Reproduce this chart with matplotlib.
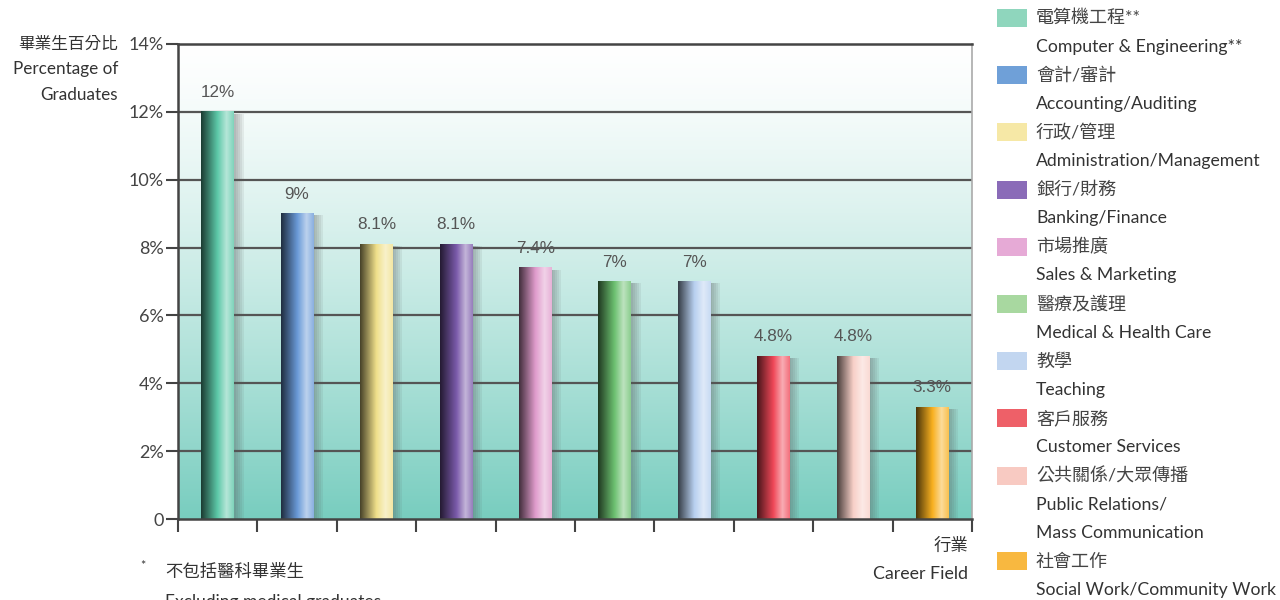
import numpy as np
import matplotlib
matplotlib.use("Agg")
import matplotlib.pyplot as plt
from matplotlib.colors import to_rgb
from matplotlib.patches import Rectangle

plt.rcParams['font.family'] = ['Lato', 'Noto Sans CJK TC', 'DejaVu Sans']

# data
labels_zh = ["電算機工程**", "會計/審計", "行政/管理", "銀行/財務", "市場推廣",
             "醫療及護理", "教學", "客戶服務", "公共關係/大眾傳播", "社會工作"]
labels_en = ["Computer & Engineering**", "Accounting/Auditing", "Administration/Management",
             "Banking/Finance", "Sales & Marketing", "Medical & Health Care", "Teaching",
             "Customer Services", "Public Relations/\nMass Communication",
             "Social Work/Community Work"]
values = [12, 9, 8.1, 8.1, 7.4, 7, 7, 4.8, 4.8, 3.3]
value_text = ["12%", "9%", "8.1%", "8.1%", "7.4%", "7%", "7%", "4.8%", "4.8%", "3.3%"]
bar_colors = ["#5cc8a8", "#6a9ad8", "#f0e08a", "#7a5aaa", "#e09ccc",
              "#6cc070", "#b8d0f0", "#f04858", "#f8d0c8", "#f8b020"]
legend_colors = ["#8fd6bd", "#6fa0d8", "#f6e8a6", "#8a6bb8", "#e6aad6",
                 "#a8d8a0", "#c2d6f0", "#ee6068", "#f8cac2", "#f8b840"]

W, H = 1280, 600
fig = plt.figure(figsize=(12.8, 6.0), dpi=100)
ax = fig.add_axes([178 / W, 1 - 519 / H, 794 / W, 475 / H])

x = np.arange(len(values))
bw = 0.41

# background gradient (white at top -> teal at bottom)
top = np.array([1.0, 1.0, 1.0])
bot = np.array(to_rgb("#78cdbf"))
t = np.linspace(0, 1, 256) ** 1.3
bg = top[None, :] * (1 - t[:, None]) + bot[None, :] * t[:, None]
ax.imshow(bg[:, None, :], extent=(-0.5, 9.5, 0, 14), aspect='auto', zorder=0)

ax.set_yticks(np.arange(0, 15, 2))
ax.set_yticklabels(["0"] + ["%d%%" % v for v in range(2, 15, 2)])
for yv in range(2, 14, 2):
    ax.axhline(yv, color="#555555", lw=1.6, zorder=1)

# shaded cylinder-like bars
s = np.linspace(0, 1, 64)
for xi, v, c, txt in zip(x, values, bar_colors, value_text):
    base = np.array(to_rgb(c))
    dark = base * 0.3
    light = base + (1 - base) * 0.55
    prof = np.interp(s, [0, 0.5, 0.78, 1.0], [0, 1, 2, 1.4])
    row = np.empty((len(s), 3))
    for i, p in enumerate(prof):
        if p <= 1:
            row[i] = dark * (1 - p) + base * p
        else:
            row[i] = base * (2 - p) + light * (p - 1)
    for k in range(5):
        ax.add_patch(Rectangle((xi + bw / 2, 0), 0.02 + k * 0.025, v - 0.05,
                               color="#555555", alpha=0.09, lw=0, zorder=2))
    ax.imshow(row[None, :, :], extent=(xi - bw / 2, xi + bw / 2, 0, v),
              aspect='auto', zorder=3)
    ax.annotate(txt, (xi, v), xytext=(0, 14), textcoords='offset points',
                ha='center', va='center', fontsize=12.3, color="#555555",
                family=['Liberation Sans', 'DejaVu Sans'], zorder=4)

ax.set_xlim(-0.5, 9.5)
ax.set_ylim(0, 14)
ax.set_xticks(np.arange(0.5, 9.5, 1.0))
ax.set_xticks([-0.5, 9.5], minor=True)
ax.set_xticklabels([])
ax.tick_params(axis='x', which='both', direction='out', length=9, width=1.5, color="#444444")
ax.tick_params(axis='y', direction='out', length=9, width=1.5, color="#444444",
               labelsize=13, labelcolor="#444444", pad=1)
for sp in ["left", "bottom", "top"]:
    ax.spines[sp].set_color("#444444")
    ax.spines[sp].set_linewidth(1.8)
ax.spines["right"].set_color("#aaaaaa")
ax.spines["right"].set_linewidth(1.2)
for sp in ax.spines.values():
    sp.set_zorder(5)

# axis titles
txt_c = "#333333"
fig.text(118 / W, 1 - 44 / H, "畢業生百分比", ha='right', va='center', fontsize=12, color=txt_c)
fig.text(118 / W, 1 - 69 / H, "Percentage of", ha='right', va='center', fontsize=12.3, color=txt_c)
fig.text(118 / W, 1 - 95 / H, "Graduates", ha='right', va='center', fontsize=12.3, color=txt_c)
fig.text(968 / W, 1 - 546 / H, "行業", ha='right', va='center', fontsize=12.5, color=txt_c)
fig.text(968 / W, 1 - 574 / H, "Career Field", ha='right', va='center', fontsize=12.8, color=txt_c)

# footnote (cut off at the bottom like the original)
fig.text(143 / W, 1 - 566 / H, "*", ha='center', va='center', fontsize=9, color=txt_c)
fig.text(165 / W, 1 - 572 / H, "不包括醫科畢業生", ha='left', va='center', fontsize=12.5, color=txt_c)
fig.text(165 / W, 1 - 602 / H, "Excluding medical graduates", ha='left', va='center',
         fontsize=12.5, color=txt_c)

# legend on the right
line_h = 28.6
line = 0
for zh, en, c in zip(labels_zh, labels_en, legend_colors):
    yc = 18 + line * line_h
    fig.patches.append(Rectangle((997 / W, 1 - (yc + 9) / H), 30 / W, 18 / H,
                                 transform=fig.transFigure, color=c, lw=0))
    fig.text(1036 / W, 1 - yc / H, zh, ha='left', va='center', fontsize=13, color="#444444")
    line += 1
    for part in en.split("\n"):
        yc = 18 + line * line_h
        fig.text(1036 / W, 1 - yc / H, part, ha='left', va='center', fontsize=12.7, color=txt_c)
        line += 1

fig.savefig("out.png", dpi=100)
